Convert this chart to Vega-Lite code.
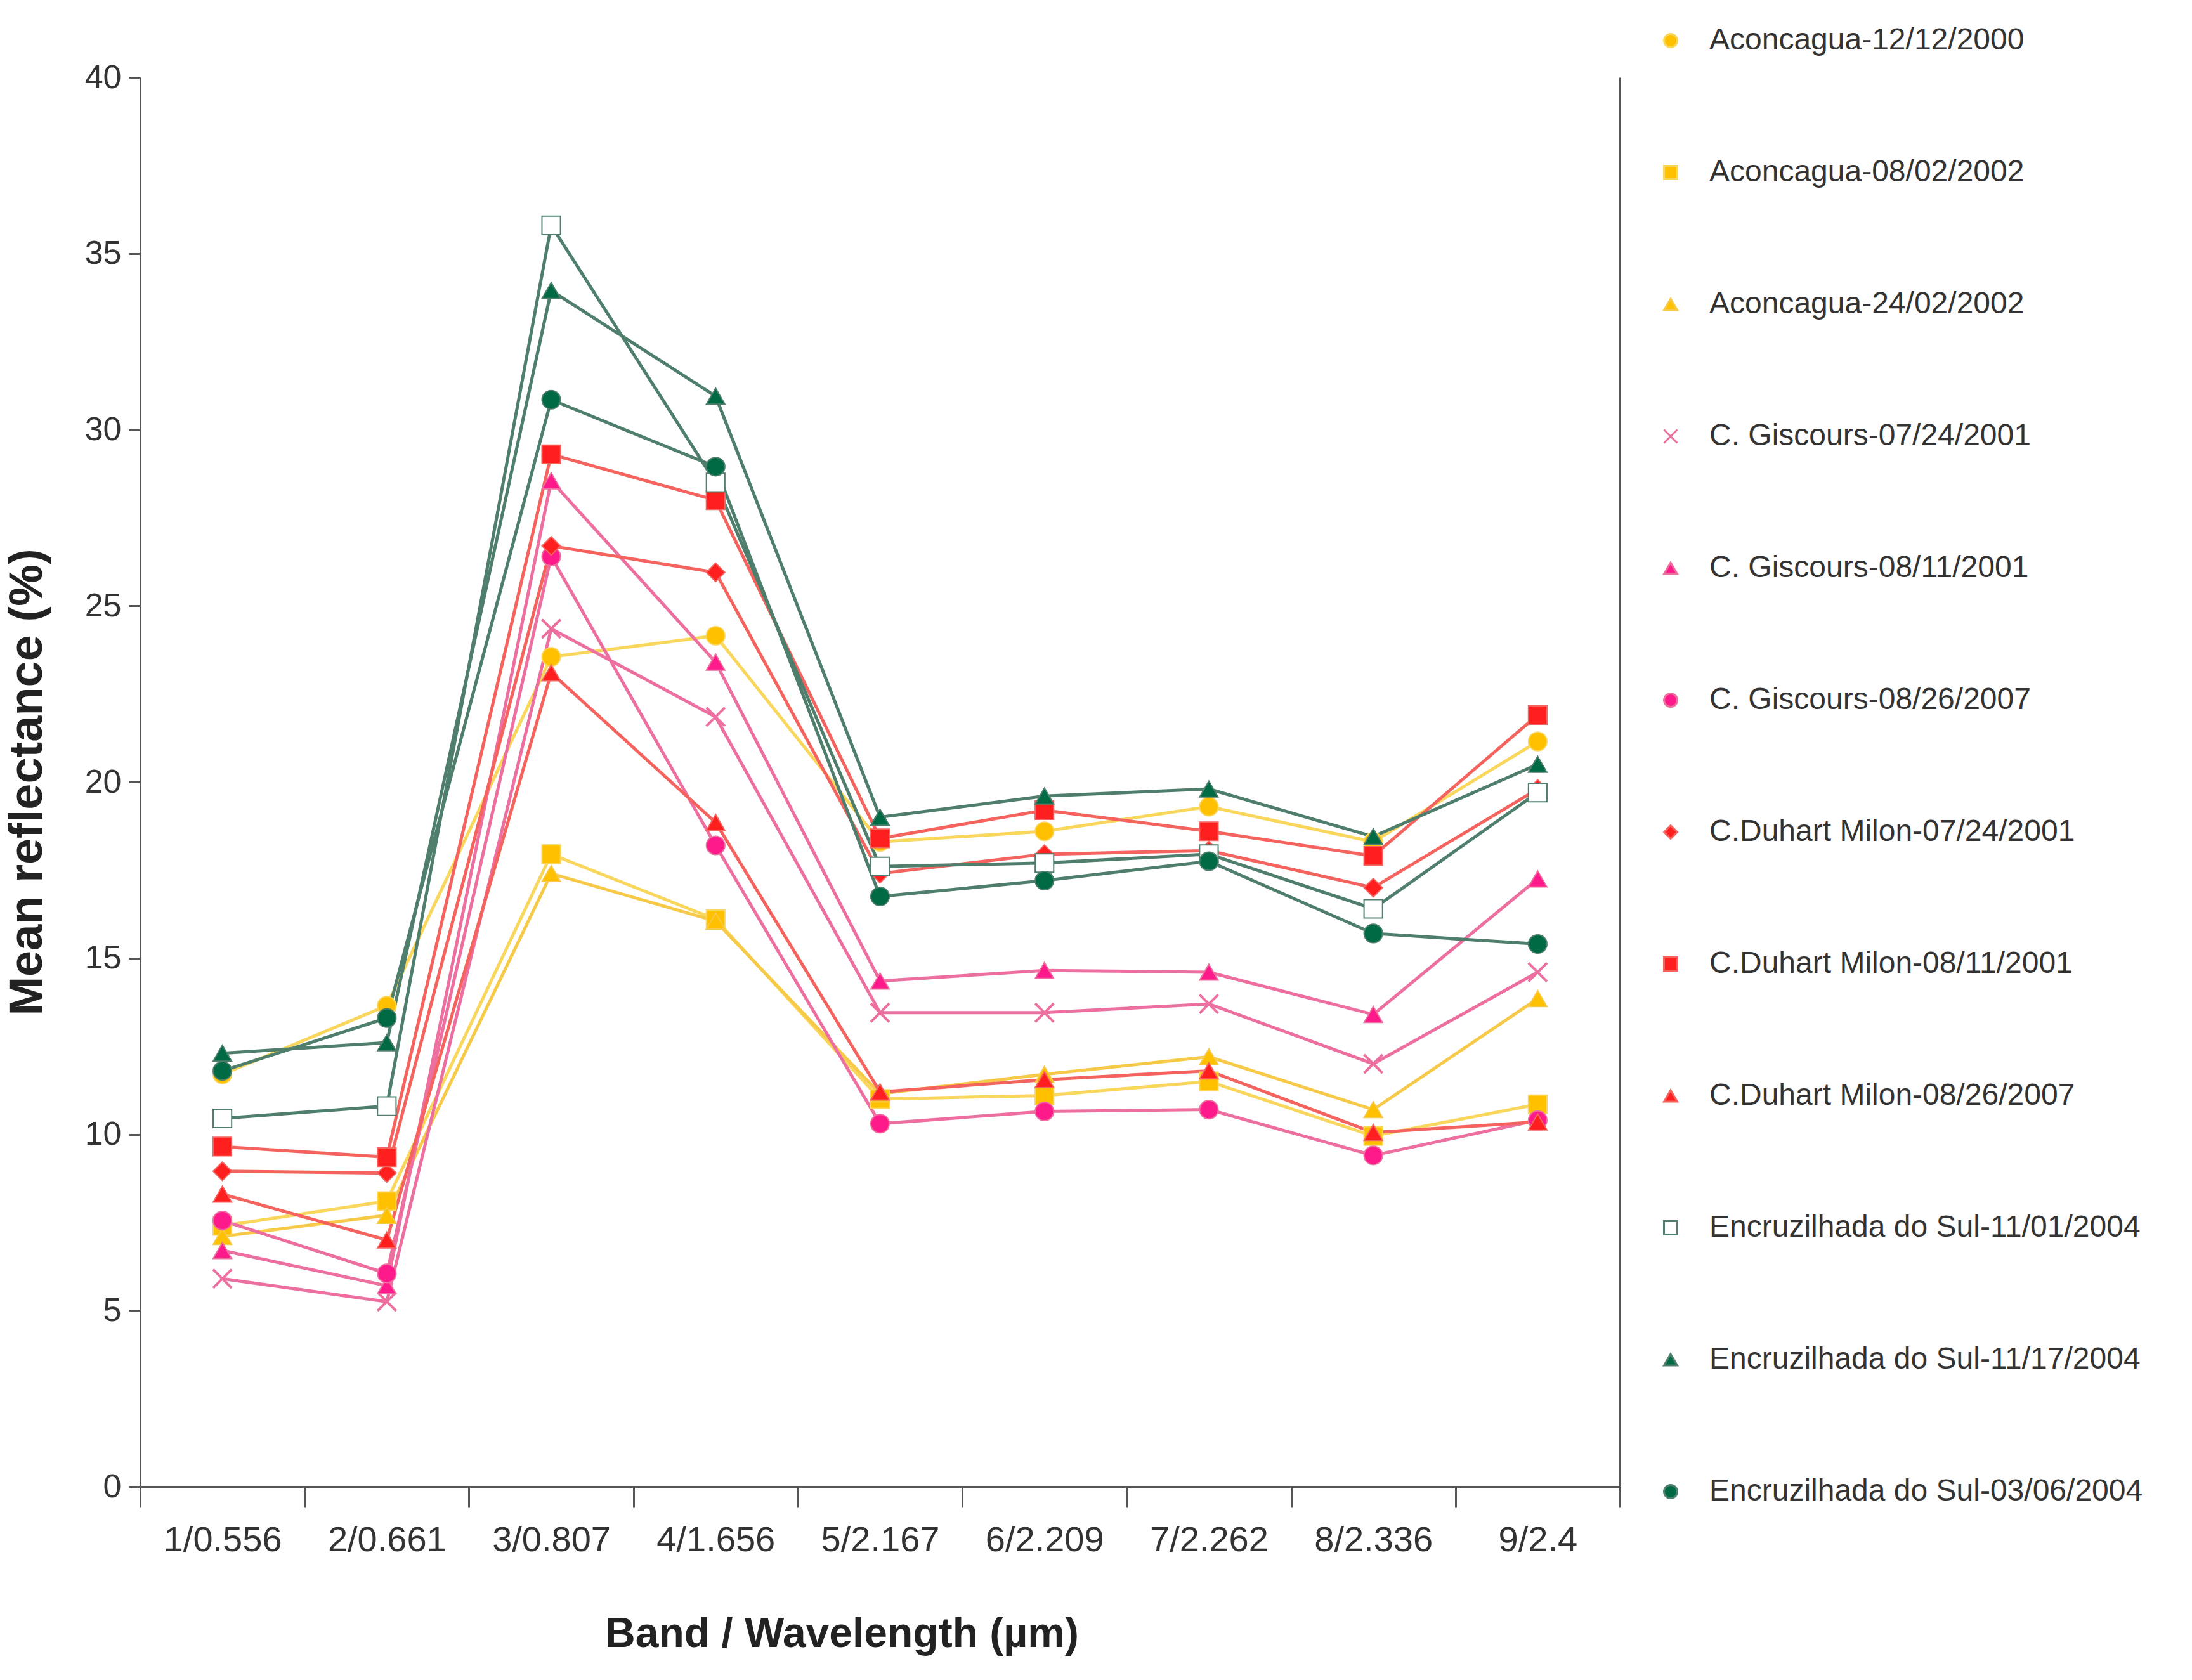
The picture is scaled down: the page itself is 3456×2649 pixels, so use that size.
{
  "$schema": "https://vega.github.io/schema/vega-lite/v6.json",
  "autosize": {"type": "none"},
  "padding": {"left": 221, "top": 122, "right": 902, "bottom": 305},
  "width": 2333,
  "height": 2222,
  "background": "white",
  "data": {
    "values": [
      {"s": "Aconcagua-12/12/2000", "b": "1/0.556", "v": 11.7}, {"s": "Aconcagua-12/12/2000", "b": "2/0.661", "v": 13.65}, {"s": "Aconcagua-12/12/2000", "b": "3/0.807", "v": 23.55}, {"s": "Aconcagua-12/12/2000", "b": "4/1.656", "v": 24.15}, {"s": "Aconcagua-12/12/2000", "b": "5/2.167", "v": 18.3}, {"s": "Aconcagua-12/12/2000", "b": "6/2.209", "v": 18.6}, {"s": "Aconcagua-12/12/2000", "b": "7/2.262", "v": 19.3}, {"s": "Aconcagua-12/12/2000", "b": "8/2.336", "v": 18.3}, {"s": "Aconcagua-12/12/2000", "b": "9/2.4", "v": 21.15},
      {"s": "Aconcagua-08/02/2002", "b": "1/0.556", "v": 7.4}, {"s": "Aconcagua-08/02/2002", "b": "2/0.661", "v": 8.1}, {"s": "Aconcagua-08/02/2002", "b": "3/0.807", "v": 17.95}, {"s": "Aconcagua-08/02/2002", "b": "4/1.656", "v": 16.1}, {"s": "Aconcagua-08/02/2002", "b": "5/2.167", "v": 11.0}, {"s": "Aconcagua-08/02/2002", "b": "6/2.209", "v": 11.1}, {"s": "Aconcagua-08/02/2002", "b": "7/2.262", "v": 11.5}, {"s": "Aconcagua-08/02/2002", "b": "8/2.336", "v": 9.95}, {"s": "Aconcagua-08/02/2002", "b": "9/2.4", "v": 10.85},
      {"s": "Aconcagua-24/02/2002", "b": "1/0.556", "v": 7.1}, {"s": "Aconcagua-24/02/2002", "b": "2/0.661", "v": 7.7}, {"s": "Aconcagua-24/02/2002", "b": "3/0.807", "v": 17.4}, {"s": "Aconcagua-24/02/2002", "b": "4/1.656", "v": 16.05}, {"s": "Aconcagua-24/02/2002", "b": "5/2.167", "v": 11.15}, {"s": "Aconcagua-24/02/2002", "b": "6/2.209", "v": 11.7}, {"s": "Aconcagua-24/02/2002", "b": "7/2.262", "v": 12.2}, {"s": "Aconcagua-24/02/2002", "b": "8/2.336", "v": 10.7}, {"s": "Aconcagua-24/02/2002", "b": "9/2.4", "v": 13.85},
      {"s": "C. Giscours-07/24/2001", "b": "1/0.556", "v": 5.9}, {"s": "C. Giscours-07/24/2001", "b": "2/0.661", "v": 5.25}, {"s": "C. Giscours-07/24/2001", "b": "3/0.807", "v": 24.35}, {"s": "C. Giscours-07/24/2001", "b": "4/1.656", "v": 21.85}, {"s": "C. Giscours-07/24/2001", "b": "5/2.167", "v": 13.45}, {"s": "C. Giscours-07/24/2001", "b": "6/2.209", "v": 13.45}, {"s": "C. Giscours-07/24/2001", "b": "7/2.262", "v": 13.7}, {"s": "C. Giscours-07/24/2001", "b": "8/2.336", "v": 12.0}, {"s": "C. Giscours-07/24/2001", "b": "9/2.4", "v": 14.6},
      {"s": "C. Giscours-08/11/2001", "b": "1/0.556", "v": 6.7}, {"s": "C. Giscours-08/11/2001", "b": "2/0.661", "v": 5.7}, {"s": "C. Giscours-08/11/2001", "b": "3/0.807", "v": 28.55}, {"s": "C. Giscours-08/11/2001", "b": "4/1.656", "v": 23.4}, {"s": "C. Giscours-08/11/2001", "b": "5/2.167", "v": 14.35}, {"s": "C. Giscours-08/11/2001", "b": "6/2.209", "v": 14.65}, {"s": "C. Giscours-08/11/2001", "b": "7/2.262", "v": 14.6}, {"s": "C. Giscours-08/11/2001", "b": "8/2.336", "v": 13.4}, {"s": "C. Giscours-08/11/2001", "b": "9/2.4", "v": 17.25},
      {"s": "C. Giscours-08/26/2007", "b": "1/0.556", "v": 7.55}, {"s": "C. Giscours-08/26/2007", "b": "2/0.661", "v": 6.05}, {"s": "C. Giscours-08/26/2007", "b": "3/0.807", "v": 26.4}, {"s": "C. Giscours-08/26/2007", "b": "4/1.656", "v": 18.2}, {"s": "C. Giscours-08/26/2007", "b": "5/2.167", "v": 10.3}, {"s": "C. Giscours-08/26/2007", "b": "6/2.209", "v": 10.65}, {"s": "C. Giscours-08/26/2007", "b": "7/2.262", "v": 10.7}, {"s": "C. Giscours-08/26/2007", "b": "8/2.336", "v": 9.4}, {"s": "C. Giscours-08/26/2007", "b": "9/2.4", "v": 10.4},
      {"s": "C.Duhart Milon-07/24/2001", "b": "1/0.556", "v": 8.95}, {"s": "C.Duhart Milon-07/24/2001", "b": "2/0.661", "v": 8.9}, {"s": "C.Duhart Milon-07/24/2001", "b": "3/0.807", "v": 26.7}, {"s": "C.Duhart Milon-07/24/2001", "b": "4/1.656", "v": 25.95}, {"s": "C.Duhart Milon-07/24/2001", "b": "5/2.167", "v": 17.4}, {"s": "C.Duhart Milon-07/24/2001", "b": "6/2.209", "v": 17.95}, {"s": "C.Duhart Milon-07/24/2001", "b": "7/2.262", "v": 18.05}, {"s": "C.Duhart Milon-07/24/2001", "b": "8/2.336", "v": 17.0}, {"s": "C.Duhart Milon-07/24/2001", "b": "9/2.4", "v": 19.8},
      {"s": "C.Duhart Milon-08/11/2001", "b": "1/0.556", "v": 9.65}, {"s": "C.Duhart Milon-08/11/2001", "b": "2/0.661", "v": 9.35}, {"s": "C.Duhart Milon-08/11/2001", "b": "3/0.807", "v": 29.3}, {"s": "C.Duhart Milon-08/11/2001", "b": "4/1.656", "v": 28.0}, {"s": "C.Duhart Milon-08/11/2001", "b": "5/2.167", "v": 18.4}, {"s": "C.Duhart Milon-08/11/2001", "b": "6/2.209", "v": 19.2}, {"s": "C.Duhart Milon-08/11/2001", "b": "7/2.262", "v": 18.6}, {"s": "C.Duhart Milon-08/11/2001", "b": "8/2.336", "v": 17.9}, {"s": "C.Duhart Milon-08/11/2001", "b": "9/2.4", "v": 21.9},
      {"s": "C.Duhart Milon-08/26/2007", "b": "1/0.556", "v": 8.3}, {"s": "C.Duhart Milon-08/26/2007", "b": "2/0.661", "v": 7.0}, {"s": "C.Duhart Milon-08/26/2007", "b": "3/0.807", "v": 23.1}, {"s": "C.Duhart Milon-08/26/2007", "b": "4/1.656", "v": 18.85}, {"s": "C.Duhart Milon-08/26/2007", "b": "5/2.167", "v": 11.2}, {"s": "C.Duhart Milon-08/26/2007", "b": "6/2.209", "v": 11.55}, {"s": "C.Duhart Milon-08/26/2007", "b": "7/2.262", "v": 11.8}, {"s": "C.Duhart Milon-08/26/2007", "b": "8/2.336", "v": 10.05}, {"s": "C.Duhart Milon-08/26/2007", "b": "9/2.4", "v": 10.35},
      {"s": "Encruzilhada do Sul-11/01/2004", "b": "1/0.556", "v": 10.45}, {"s": "Encruzilhada do Sul-11/01/2004", "b": "2/0.661", "v": 10.8}, {"s": "Encruzilhada do Sul-11/01/2004", "b": "3/0.807", "v": 35.8}, {"s": "Encruzilhada do Sul-11/01/2004", "b": "4/1.656", "v": 28.5}, {"s": "Encruzilhada do Sul-11/01/2004", "b": "5/2.167", "v": 17.6}, {"s": "Encruzilhada do Sul-11/01/2004", "b": "6/2.209", "v": 17.7}, {"s": "Encruzilhada do Sul-11/01/2004", "b": "7/2.262", "v": 17.95}, {"s": "Encruzilhada do Sul-11/01/2004", "b": "8/2.336", "v": 16.4}, {"s": "Encruzilhada do Sul-11/01/2004", "b": "9/2.4", "v": 19.7},
      {"s": "Encruzilhada do Sul-11/17/2004", "b": "1/0.556", "v": 12.3}, {"s": "Encruzilhada do Sul-11/17/2004", "b": "2/0.661", "v": 12.6}, {"s": "Encruzilhada do Sul-11/17/2004", "b": "3/0.807", "v": 33.95}, {"s": "Encruzilhada do Sul-11/17/2004", "b": "4/1.656", "v": 30.95}, {"s": "Encruzilhada do Sul-11/17/2004", "b": "5/2.167", "v": 19.0}, {"s": "Encruzilhada do Sul-11/17/2004", "b": "6/2.209", "v": 19.6}, {"s": "Encruzilhada do Sul-11/17/2004", "b": "7/2.262", "v": 19.8}, {"s": "Encruzilhada do Sul-11/17/2004", "b": "8/2.336", "v": 18.45}, {"s": "Encruzilhada do Sul-11/17/2004", "b": "9/2.4", "v": 20.5},
      {"s": "Encruzilhada do Sul-03/06/2004", "b": "1/0.556", "v": 11.8}, {"s": "Encruzilhada do Sul-03/06/2004", "b": "2/0.661", "v": 13.3}, {"s": "Encruzilhada do Sul-03/06/2004", "b": "3/0.807", "v": 30.85}, {"s": "Encruzilhada do Sul-03/06/2004", "b": "4/1.656", "v": 28.95}, {"s": "Encruzilhada do Sul-03/06/2004", "b": "5/2.167", "v": 16.75}, {"s": "Encruzilhada do Sul-03/06/2004", "b": "6/2.209", "v": 17.2}, {"s": "Encruzilhada do Sul-03/06/2004", "b": "7/2.262", "v": 17.75}, {"s": "Encruzilhada do Sul-03/06/2004", "b": "8/2.336", "v": 15.7}, {"s": "Encruzilhada do Sul-03/06/2004", "b": "9/2.4", "v": 15.4}
    ]
  },
  "encoding": {
    "x": {
      "field": "b",
      "type": "ordinal",
      "sort": null,
      "scale": {"type": "band", "paddingInner": 0, "paddingOuter": 0},
      "axis": {
        "title": "Band / Wavelength (µm)",
        "labelAngle": 0,
        "labelFontSize": 56,
        "labelLimit": 0,
        "tickBand": "extent",
        "tickSize": 33,
        "labelPadding": 24,
        "titlePadding": 88,
        "titleX": 1106,
        "grid": false
      }
    },
    "y": {
      "field": "v",
      "type": "quantitative",
      "scale": {"domain": [0, 40], "nice": false},
      "axis": {
        "title": "Mean reflectance (%)",
        "values": [0, 5, 10, 15, 20, 25, 30, 35, 40],
        "labelFontSize": 52,
        "tickSize": 18,
        "labelPadding": 12,
        "titlePadding": 52,
        "titleFontSize": 74,
        "grid": false
      }
    }
  },
  "layer": [
    {
      "mark": {"type": "line", "strokeWidth": 5},
      "encoding": {
        "stroke": {
          "field": "s",
          "type": "nominal",
          "scale": {
            "domain": ["Aconcagua-12/12/2000", "Aconcagua-08/02/2002", "Aconcagua-24/02/2002", "C. Giscours-07/24/2001", "C. Giscours-08/11/2001", "C. Giscours-08/26/2007", "C.Duhart Milon-07/24/2001", "C.Duhart Milon-08/11/2001", "C.Duhart Milon-08/26/2007", "Encruzilhada do Sul-11/01/2004", "Encruzilhada do Sul-11/17/2004", "Encruzilhada do Sul-03/06/2004"],
            "range": ["#F9D65C", "#F9D65C", "#F7C948", "#EC6FA0", "#EC6FA0", "#EC6FA0", "#F5635F", "#F5635F", "#F5635F", "#4F7F6C", "#4F7F6C", "#4F7F6C"]
          }
        }
      }
    },
    {
      "mark": {"type": "point", "filled": true, "opacity": 1, "size": 850},
      "encoding": {
        "y": {
          "field": "v",
          "type": "quantitative",
          "axis": {"orient": "right", "labels": false, "ticks": false, "title": null, "domain": true, "grid": false}
        },
        "shape": {
          "field": "s",
          "type": "nominal",
          "scale": {
            "domain": ["Aconcagua-12/12/2000", "Aconcagua-08/02/2002", "Aconcagua-24/02/2002", "C. Giscours-07/24/2001", "C. Giscours-08/11/2001", "C. Giscours-08/26/2007", "C.Duhart Milon-07/24/2001", "C.Duhart Milon-08/11/2001", "C.Duhart Milon-08/26/2007", "Encruzilhada do Sul-11/01/2004", "Encruzilhada do Sul-11/17/2004", "Encruzilhada do Sul-03/06/2004"],
            "range": ["circle", "square", "triangle-up", "M-1,-1L1,1M-1,1L1,-1", "triangle-up", "circle", "diamond", "square", "triangle-up", "square", "triangle-up", "circle"]
          }
        },
        "fill": {
          "field": "s",
          "type": "nominal",
          "scale": {
            "domain": ["Aconcagua-12/12/2000", "Aconcagua-08/02/2002", "Aconcagua-24/02/2002", "C. Giscours-07/24/2001", "C. Giscours-08/11/2001", "C. Giscours-08/26/2007", "C.Duhart Milon-07/24/2001", "C.Duhart Milon-08/11/2001", "C.Duhart Milon-08/26/2007", "Encruzilhada do Sul-11/01/2004", "Encruzilhada do Sul-11/17/2004", "Encruzilhada do Sul-03/06/2004"],
            "range": ["#FFC000", "#FFC000", "#FFC000", "#F0509A", "#FF1A8C", "#FF1A8C", "#FF1F1F", "#FF1F1F", "#FF1F1F", "#FFFFFF", "#006A45", "#006A45"]
          }
        },
        "stroke": {"field": "s", "type": "nominal"},
        "strokeWidth": {
          "condition": {"test": "datum.s === 'C. Giscours-07/24/2001'", "value": 4},
          "value": 2
        }
      }
    }
  ],
  "resolve": {"axis": {"y": "independent"}},
  "config": {
    "view": {"stroke": null},
    "font": "Liberation Sans",
    "legend": {
      "orient": "none",
      "legendX": 2389,
      "legendY": -82,
      "title": null,
      "padding": 0,
      "labelFont": "Liberation Sans",
      "labelFontSize": 48,
      "labelLimit": 0,
      "labelColor": "#333333",
      "labelOffset": 37,
      "symbolSize": 440,
      "symbolStrokeWidth": 3,
      "symbolOpacity": 1,
      "rowPadding": 160
    },
    "axis": {
      "labelFont": "Liberation Sans",
      "labelColor": "#333333",
      "titleFont": "Liberation Sans",
      "titleFontSize": 66,
      "titleFontWeight": "bold",
      "titleColor": "#222222",
      "domainColor": "#555555",
      "domainWidth": 3,
      "tickColor": "#555555",
      "tickWidth": 3
    }
  }
}
